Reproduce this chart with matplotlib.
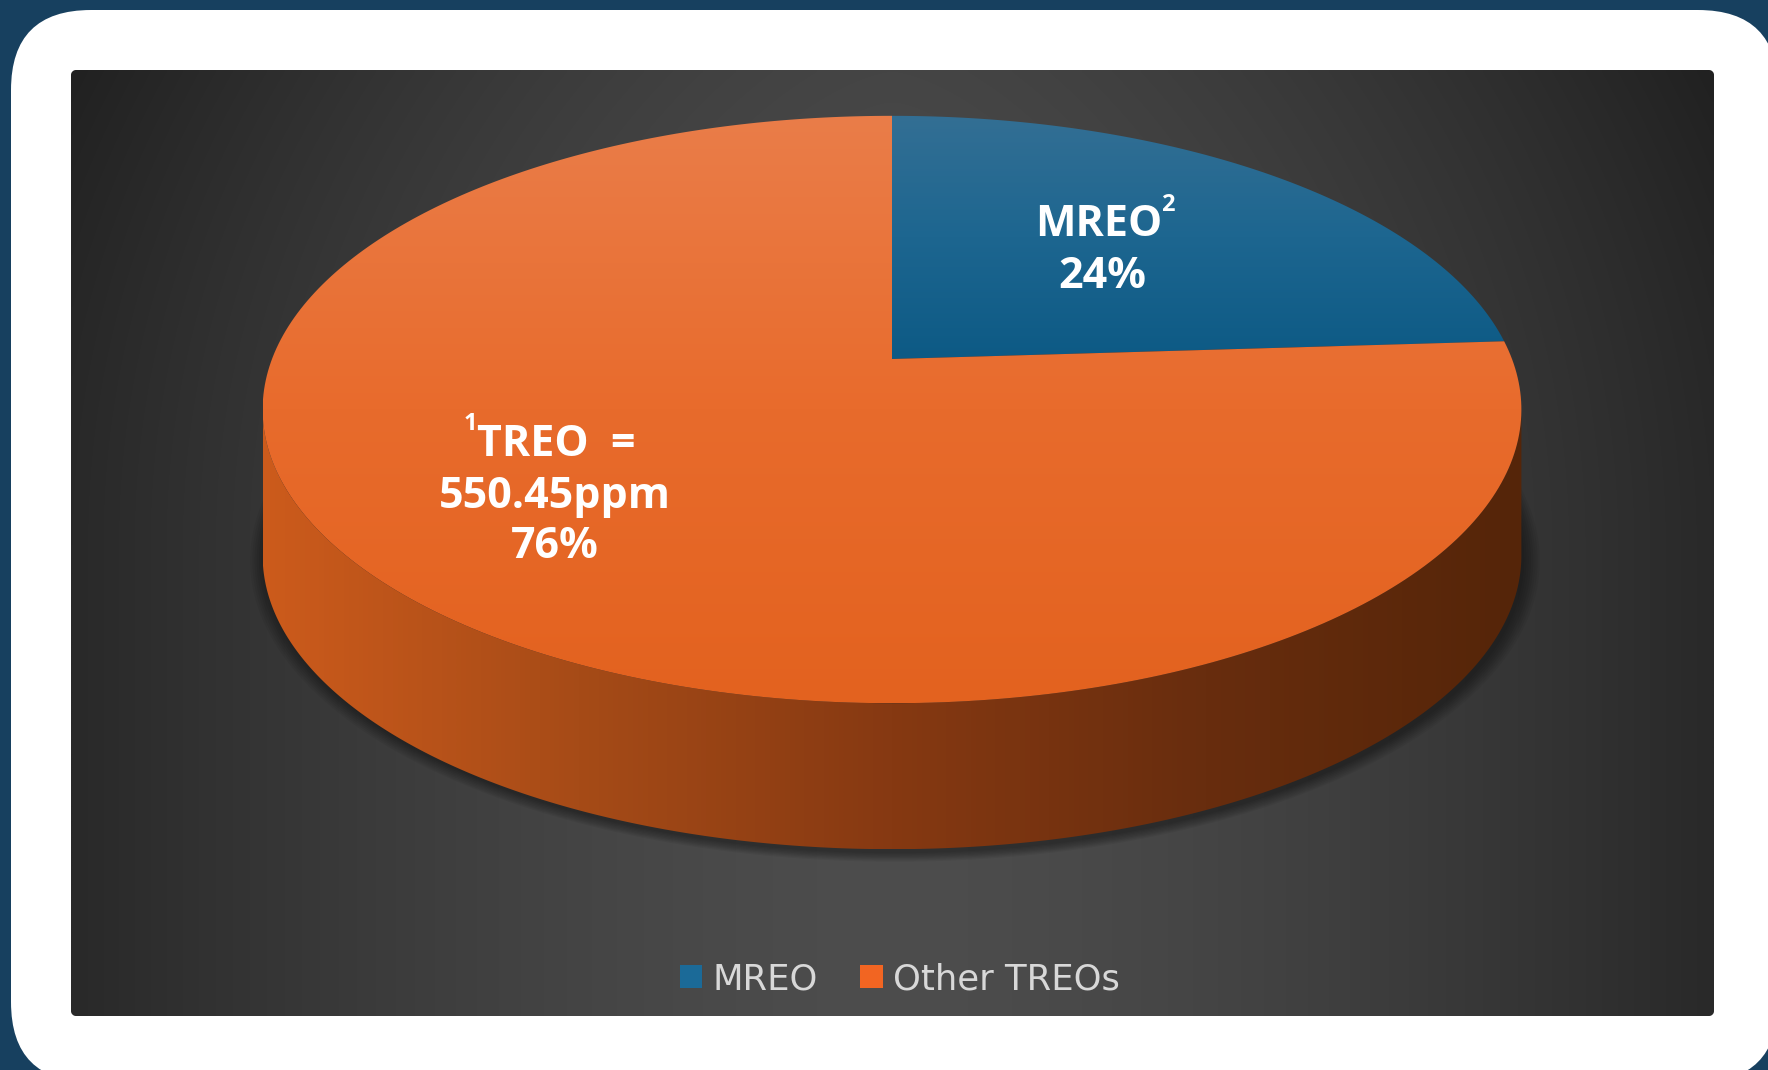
import numpy as np
import matplotlib.pyplot as plt
from matplotlib.patches import Polygon, FancyBboxPatch, Patch
from matplotlib.colors import LinearSegmentedColormap

# data
categories = ['MREO', 'Other TREOs']
shares = [24, 76]
label_lines = [['MREO', '24%'], ['TREO  =', '550.45ppm', '76%']]
label_marks = ['2', '1']

W, H = 1768, 1070
fig = plt.figure(figsize=(W / 100, H / 100), dpi=100)
fig.patch.set_facecolor('#17405f')
ax = fig.add_axes([0, 0, 1, 1])
ax.set_axis_off()

# white card + dark panel
card = FancyBboxPatch((11, 10), 1767, 1072, boxstyle='round,pad=0,rounding_size=80',
                      fc='white', ec='none', zorder=1)
ax.add_patch(card)
px0, py0, pw, ph = 71, 70, 1643, 946
panel = FancyBboxPatch((px0, py0), pw, ph, boxstyle='round,pad=0,rounding_size=6',
                       fc='#3a3a3a', ec='none', zorder=2)
ax.add_patch(panel)
gx, gy = np.meshgrid(np.linspace(-1, 1, 400), np.linspace(-1, 1, 240))
shade = (77 - 36 * np.abs(gx) ** 1.5 - 8 * (gy < 0) * gy ** 2) / 255.0
im = ax.imshow(np.dstack([shade, shade, shade]), extent=(px0, px0 + pw, py0 + ph, py0),
               aspect='auto', zorder=3, interpolation='bilinear')
im.set_clip_path(panel)

# pie geometry (simple perspective of a disc)
X0, Y0, A, B, k, depth = 892, 359, 620, 285, 0.172, 146


def proj(theta, drop=0.0):
    t = np.radians(theta)
    u, v = np.sin(t), np.cos(t)
    w = 1 + k * v
    return X0 + A * u / w, Y0 - B * v / w + drop


def grad_fill(pts, colors, horizontal, z):
    poly = Polygon(pts, closed=True, fc='none', ec='none', zorder=z)
    ax.add_patch(poly)
    x0, y0 = pts.min(axis=0)
    x1, y1 = pts.max(axis=0)
    cmap = LinearSegmentedColormap.from_list('g', colors)
    ramp = np.linspace(0, 1, 256)
    arr = ramp[None, :] if horizontal else ramp[:, None]
    img = ax.imshow(arr, cmap=cmap, extent=(x0, x1, y1, y0), aspect='auto',
                    zorder=z, interpolation='bilinear')
    img.set_clip_path(poly)


# soft shadow under the disc
th = np.linspace(0, 360, 721)
bx, by = proj(th, depth)
for i in range(8):
    s = 1 + 0.0035 * i
    sx = X0 + 3 + (bx - X0) * s
    sy = Y0 + depth + 4 + (by - Y0 - depth) * s
    ax.add_patch(Polygon(np.column_stack([sx, sy]), closed=True, fc='black',
                         ec='none', alpha=0.05, zorder=4))

# side wall (front half)
tx, ty = proj(th)
i_left, i_right = np.argmin(tx), np.argmax(tx)
front = np.linspace(th[i_right], th[i_left], 400)
fx, fy = proj(front)
bfx, bfy = proj(front[::-1], depth)
side = np.column_stack([np.r_[fx, bfx], np.r_[fy, bfy]])
grad_fill(side, ['#cc5b1c', '#a64b17', '#863912', '#682d0e', '#552509'], True, 5)

# top faces
cum = np.r_[0, np.cumsum(shares)] / np.sum(shares) * 360
top_colors = [['#336f94', '#1d6690', '#0d5a85'], ['#ea7d49', '#e86b2c', '#e3621f']]
for i in range(len(shares)):
    arc = np.linspace(cum[i], cum[i + 1], 300)
    ax_, ay_ = proj(arc)
    pts = np.column_stack([np.r_[X0, ax_], np.r_[Y0, ay_]])
    grad_fill(pts, top_colors[i], False, 6)

# slice labels
font = dict(family=['Open Sans', 'DejaVu Sans'], weight='bold', color='white', zorder=10)
fs = 31
t1 = ax.text(1099, 225, label_lines[0][0], ha='center', va='center', fontsize=fs, **font)
ax.text(1102, 277, label_lines[0][1], ha='center', va='center', fontsize=fs, **font)
ax.annotate(label_marks[0], xy=(1, 0.97), xycoords=t1, xytext=(-1, 0),
            textcoords='offset points', ha='left', va='center', fontsize=17, **font)
t2 = ax.text(556, 444, label_lines[1][0], ha='center', va='center', fontsize=fs, **font)
ax.text(555, 497, label_lines[1][1], ha='center', va='center', fontsize=fs, **font)
ax.text(555, 547, label_lines[1][2], ha='center', va='center', fontsize=fs, **font)
ax.annotate(label_marks[1], xy=(0, 0.97), xycoords=t2, xytext=(0, 0),
            textcoords='offset points', ha='right', va='center', fontsize=17, **font)

# legend
handles = [Patch(fc=c, ec='none') for c in ['#1b6a98', '#f26522']]
leg = ax.legend(handles, categories, loc='center', bbox_to_anchor=(900, 979),
                bbox_transform=ax.transData, ncol=2, frameon=False, fontsize=25.5,
                labelcolor='#d8d8d8', handlelength=0.63, handleheight=0.63,
                handletextpad=0.3, columnspacing=1.2)
leg.set_zorder(10)

ax.set_xlim(0, W)
ax.set_ylim(H, 0)
fig.savefig('out.png', dpi=100, facecolor=fig.get_facecolor())
